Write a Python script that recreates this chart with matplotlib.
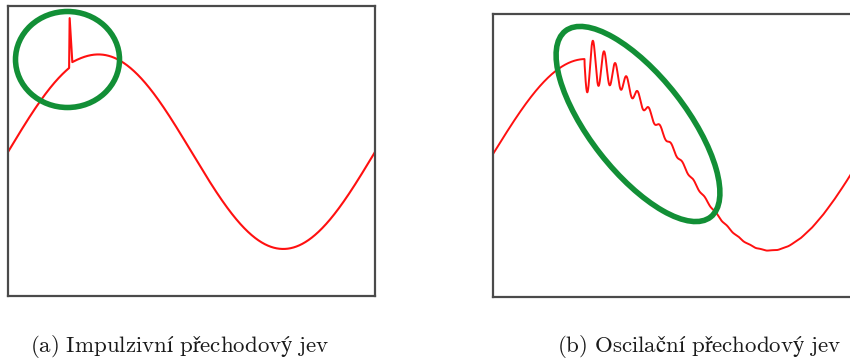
import numpy as np
import matplotlib.pyplot as plt
from matplotlib.patches import Ellipse
from matplotlib.transforms import Affine2D

W, H = 850, 362

# one period of 50 Hz voltage, time in ms, voltage in p.u.
period_ms = 20.0
t = np.linspace(0, period_ms, 4001)

# (a) impulse: vertices of the spike
spike_t = [3.33, 3.36, 3.50]
spike_v = [0.866, 1.38, 0.93]
bump_amp, bump_tau = 0.035, 0.8

# (b) oscillation after the peak
osc_start = 4.95
osc_period = 0.605
osc_amp = [0.28, 0.045]
osc_tau = [1.6, 3.2]
osc_shift, osc_shift_tau = 0.053, 8.1

captions = ["(a) Impulzivní přechodový jev", "(b) Oscilační přechodový jev"]

plt.rcParams["mathtext.fontset"] = "cm"

fig = plt.figure(figsize=(W / 100, H / 100), dpi=100)

def px_axes(x0, y0, x1, y1):
    return fig.add_axes([x0 / W, 1 - y1 / H, (x1 - x0) / W, (y1 - y0) / H])

def frame(ax):
    ax.set_xticks([])
    ax.set_yticks([])
    for s in ax.spines.values():
        s.set_color("#4a4a4a")
        s.set_linewidth(1.6)

red = "#ff1010"
green = "#128f36"
img = Affine2D().scale(1, -1).translate(0, H)  # picture pixels -> display

# (a)
ax1 = px_axes(8, 6, 375, 296)
base = np.sin(2 * np.pi * t / period_ms)
before = t < spike_t[0]
after = t > spike_t[-1]
ta = np.concatenate([t[before], spike_t, t[after]])
va = np.concatenate([base[before], spike_v,
                     base[after] + bump_amp * np.exp(-(t[after] - spike_t[-1]) / bump_tau)])
ax1.plot(ta, va, color=red, lw=1.5)
ax1.set_xlim(0, period_ms)
ax1.set_ylim(-1.485, 1.505)
frame(ax1)
fig.patches.append(Ellipse((67.5, 59.5), 104, 96, fill=False, ec=green, lw=4,
                           transform=img, figure=fig))

# (b)
ax2 = px_axes(493, 14, 863, 297)
vb = np.sin(2 * np.pi * t / period_ms)
m = t >= osc_start
dt = t[m] - osc_start
amp = osc_amp[0] * np.exp(-dt / osc_tau[0]) + osc_amp[1] * np.exp(-dt / osc_tau[1])
vb[m] -= amp * np.sin(2 * np.pi * dt / osc_period) + osc_shift * np.exp(-dt / osc_shift_tau)
ax2.plot(t, vb, color=red, lw=1.4)
ax2.set_xlim(0, period_ms)
ax2.set_ylim(-1.505, 1.474)
frame(ax2)
fig.patches.append(Ellipse((638, 124), 236, 96, angle=52, fill=False, ec=green, lw=4,
                           transform=img, figure=fig))

for x, c in zip([30, 557], captions):
    fig.text(x / W, 1 - 352 / H, "$\\mathrm{" + c.replace(" ", "\\ ") + "}$",
             fontsize=16.5, va="baseline", ha="left", color="#1a1a1a")

fig.savefig("out.png", dpi=100)
